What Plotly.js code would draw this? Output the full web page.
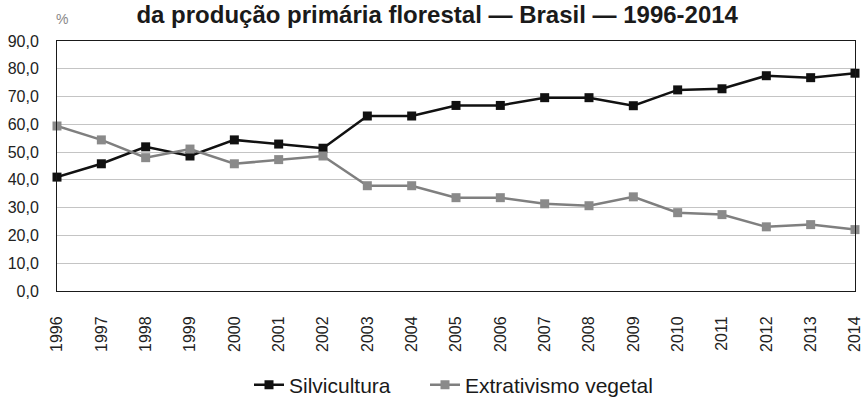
<!DOCTYPE html>
<html>
<head>
<meta charset="utf-8">
<script src="https://cdn.plot.ly/plotly-3.0.1.min.js"></script>
<style>
html,body{margin:0;padding:0;background:#fff;}
#chart{width:864px;height:400px;}
</style>
</head>
<body>
<div id="chart"></div>
<script>
const titleText = "da produção primária florestal — Brasil — 1996-2014";
const unitLabel = "%";
const years = [1996,1997,1998,1999,2000,2001,2002,2003,2004,2005,2006,2007,2008,2009,2010,2011,2012,2013,2014];
const silvicultura = [41.0,45.8,51.9,48.6,54.4,52.9,51.4,63.0,63.0,66.8,66.8,69.6,69.6,66.7,72.4,72.8,77.5,76.8,78.4];
const extrativismo = [59.4,54.4,48.0,51.1,45.8,47.3,48.6,37.9,37.9,33.6,33.6,31.4,30.7,33.9,28.2,27.5,23.1,23.9,22.1];
const seriesNames = ["Silvicultura","Extrativismo vegetal"];
const yTicks = [0,10,20,30,40,50,60,70,80,90];

const traces = [
  {
    x: years, y: silvicultura, name: seriesNames[0], type: "scatter", mode: "lines+markers",
    line: {color: "#111111", width: 2.5},
    marker: {symbol: "square", size: 9, color: "#111111"},
    cliponaxis: false, legend: "legend"
  },
  {
    x: years, y: extrativismo, name: seriesNames[1], type: "scatter", mode: "lines+markers",
    line: {color: "#7f7f7f", width: 2.5},
    marker: {symbol: "square", size: 9, color: "#8a8a8a"},
    cliponaxis: false, legend: "legend2"
  }
];

const legendCommon = {
  orientation: "h", xanchor: "left", yanchor: "middle", yref: "container", xref: "container",
  font: {size: 21, color: "#1a1a1a"}, bgcolor: "rgba(0,0,0,0)", borderwidth: 0
};

const layout = {
  width: 864, height: 400,
  margin: {l: 57, r: 9, t: 41, b: 109, pad: 0},
  paper_bgcolor: "#ffffff", plot_bgcolor: "#ffffff",
  separators: ",.",
  font: {family: "Liberation Sans, Arial, sans-serif", color: "#222222", size: 16},
  title: {
    text: "<b>" + titleText + "</b>",
    font: {family: "Liberation Sans, Arial, sans-serif", size: 24, color: "#1a1a1a"},
    x: 0.506, xanchor: "center", xref: "container",
    y: 1 - 15/400, yanchor: "middle", yref: "container"
  },
  xaxis: {
    range: [1995.9999, 2014.0001], tickvals: years, ticktext: years.map(String),
    tickangle: -90, showgrid: false, zeroline: false,
    showline: true, mirror: true, linecolor: "#1a1a1a", linewidth: 1,
    ticks: "", ticklabelstandoff: 18, ticklabeloverflow: "allow",
    tickfont: {size: 16, color: "#222222"}
  },
  yaxis: {
    range: [0, 90], tickvals: yTicks, tickformat: ".1f",
    showgrid: true, gridcolor: "#c4c4c4", gridwidth: 1.2, zeroline: false,
    showline: true, mirror: true, linecolor: "#1a1a1a", linewidth: 1,
    ticks: "", ticklabelstandoff: 14,
    tickfont: {size: 16, color: "#222222"}
  },
  showlegend: true,
  legend: Object.assign({}, legendCommon, {x: 249/864, y: 1 - 385/400}),
  legend2: Object.assign({}, legendCommon, {x: 425/864, y: 1 - 385/400}),
  annotations: [
    {text: unitLabel, xref: "paper", yref: "paper", x: (62-57)/798, y: (291-19)/250,
     xanchor: "center", yanchor: "middle", showarrow: false, font: {size: 14, color: "#888888"}}
  ]
};

Plotly.newPlot("chart", traces, layout, {displayModeBar: false, staticPlot: true});
</script>
</body>
</html>
